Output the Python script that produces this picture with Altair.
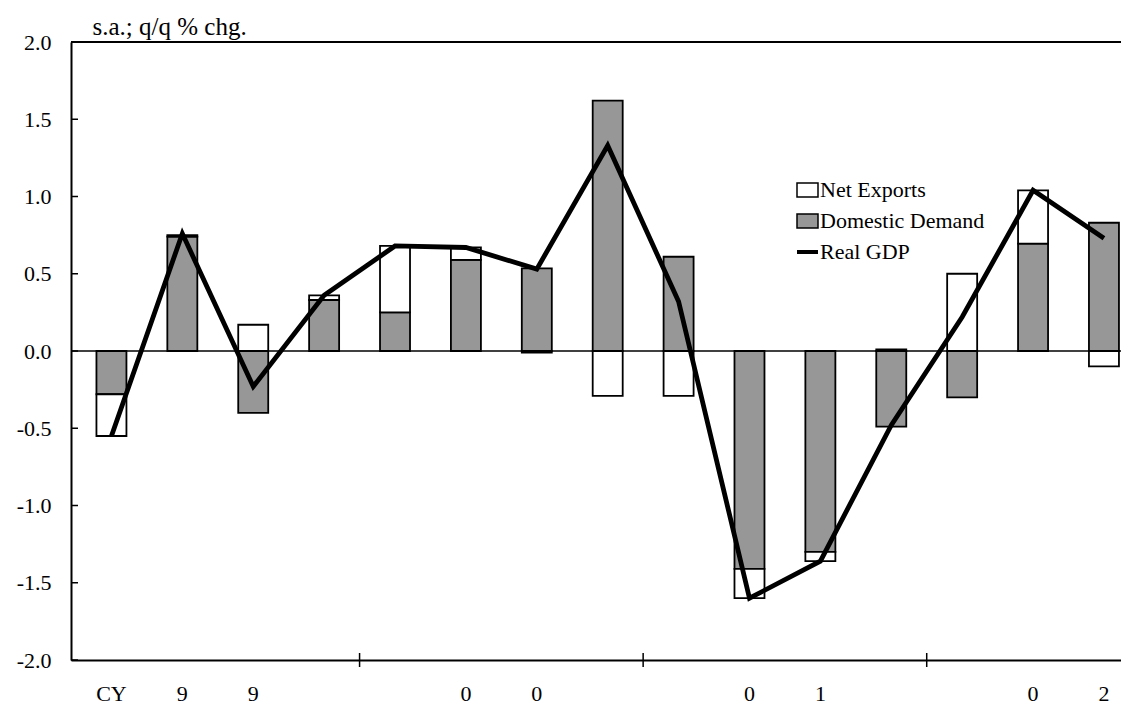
import altair as alt
import pandas as pd

# ---- data ----
quarters = list(range(1, 16))
tick_labels = ["CY", "9", "9", "", "", "0", "0", "", "", "0", "1", "", "", "0", "2"]
domestic_demand = [-0.28, 0.74, -0.40, 0.33, 0.25, 0.59, 0.535, 1.62, 0.61, -1.41, -1.30, -0.49, -0.30, 0.695, 0.83]
net_exports = [-0.27, 0.01, 0.17, 0.03, 0.43, 0.08, -0.01, -0.29, -0.29, -0.19, -0.06, 0.01, 0.50, 0.345, -0.10]
real_gdp = [-0.55, 0.76, -0.23, 0.36, 0.68, 0.67, 0.53, 1.33, 0.32, -1.60, -1.36, -0.48, 0.22, 1.04, 0.73]
y_ticks = [-2.0, -1.5, -1.0, -0.5, 0.0, 0.5, 1.0, 1.5, 2.0]
year_breaks = [4.5, 8.5, 12.5]
legend_labels = ["Net Exports", "Domestic Demand", "Real GDP"]

W, H = 1050, 618
FONT = "Liberation Serif"
FS = 22
xscale = alt.Scale(domain=[0.5, 15.17], nice=False, zero=False)
yscale = alt.Scale(domain=[-2.0, 2.0], nice=False, zero=False)

xaxis = alt.Axis(labels=False, ticks=False, grid=False, title=None,
                 domainColor="black", domainWidth=2)
yaxis = alt.Axis(values=y_ticks, grid=False, ticks=False,
                 labelExpr="(datum.value < 0 ? '-' : '') + format(abs(datum.value), '.1f')",
                 labelFont=FONT, labelFontSize=FS, labelColor="black", labelPadding=20,
                 domainColor="black", domainWidth=2,
                 title="s.a.; q/q % chg.", titleAngle=0, titleAlign="left",
                 titleBaseline="alphabetic", titleX=21, titleY=-8, titleFont=FONT,
                 titleFontSize=25, titleFontWeight="normal", titleColor="black")

# stacked segments (Excel-style: positives up, negatives down)
rows = []
for q, dd, nx in zip(quarters, domestic_demand, net_exports):
    rows.append({"q": q, "lo": 0.0, "hi": dd, "series": "Domestic Demand"})
    base = dd if (dd >= 0) == (nx >= 0) else 0.0
    rows.append({"q": q, "lo": base, "hi": base + nx, "series": "Net Exports"})
bars_df = pd.DataFrame(rows)
line_df = pd.DataFrame({"q": quarters, "gdp": real_gdp, "label": tick_labels})

bars = alt.Chart(bars_df).mark_bar(size=30, stroke="black", strokeWidth=1.8).encode(
    x=alt.X("q:Q", scale=xscale, axis=xaxis),
    y=alt.Y("lo:Q", scale=yscale, axis=yaxis),
    y2="hi:Q",
    fill=alt.condition(
        "datum.series == 'Net Exports'", alt.value("white"),
        alt.value("#979797")),
)

ytick_rules = alt.Chart(pd.DataFrame({"v": y_ticks})).mark_rule(color="black", strokeWidth=1.5).encode(
    y=alt.Y("v:Q", scale=yscale, axis=yaxis), x=alt.value(0), x2=alt.value(7))
xtick_rules = alt.Chart(pd.DataFrame({"b": year_breaks})).mark_rule(color="black", strokeWidth=1.5).encode(
    x=alt.X("b:Q", scale=xscale, axis=xaxis), y=alt.value(H - 7), y2=alt.value(H + 7))
top_rule = alt.Chart(pd.DataFrame({"v": [2.0]})).mark_rule(color="black", strokeWidth=2).encode(
    y=alt.Y("v:Q", scale=yscale, axis=yaxis), x=alt.value(0), x2=alt.value(W))
zero_rule = alt.Chart(pd.DataFrame({"v": [0.0]})).mark_rule(color="black", strokeWidth=1.5).encode(
    y=alt.Y("v:Q", scale=yscale, axis=yaxis), x=alt.value(0), x2=alt.value(W))

gdp_line = alt.Chart(line_df).mark_line(color="black", strokeWidth=4.8).encode(
    x=alt.X("q:Q", scale=xscale, axis=xaxis),
    y=alt.Y("gdp:Q", scale=yscale, axis=yaxis))

xlabels = alt.Chart(line_df).mark_text(font=FONT, fontSize=FS, color="black", baseline="middle").encode(
    x=alt.X("q:Q", scale=xscale, axis=xaxis), y=alt.value(H + 34), text="label:N")

# manual legend
lx, ly, step = 726, 148, 31
leg_layers = []
for i, lab in enumerate(legend_labels):
    d = pd.DataFrame({"label": [lab]})
    cy = ly + i * step
    if i < 2:
        leg_layers.append(alt.Chart(d).mark_rect(
            fill="white" if i == 0 else "#979797", stroke="black", strokeWidth=1.5).encode(
            x=alt.value(lx), x2=alt.value(lx + 21), y=alt.value(cy - 7), y2=alt.value(cy + 7)))
    else:
        leg_layers.append(alt.Chart(d).mark_rule(color="black", strokeWidth=4).encode(
            x=alt.value(lx), x2=alt.value(lx + 21), y=alt.value(cy)))
    leg_layers.append(alt.Chart(d).mark_text(font=FONT, fontSize=FS, color="black",
                                            align="left", baseline="middle").encode(
        x=alt.value(lx + 23), y=alt.value(cy), text="label:N"))

chart = alt.layer(bars, zero_rule, top_rule, ytick_rules, xtick_rules, gdp_line, xlabels,
                  *leg_layers).properties(
    width=W, height=H,
    autosize=alt.AutoSizeParams(type="none"),
    padding={"left": 63, "top": 34, "right": 0, "bottom": 46},
    background="white",
).configure_view(stroke=None)

chart.save("out.html", embed_options={"renderer": "svg", "actions": False})
